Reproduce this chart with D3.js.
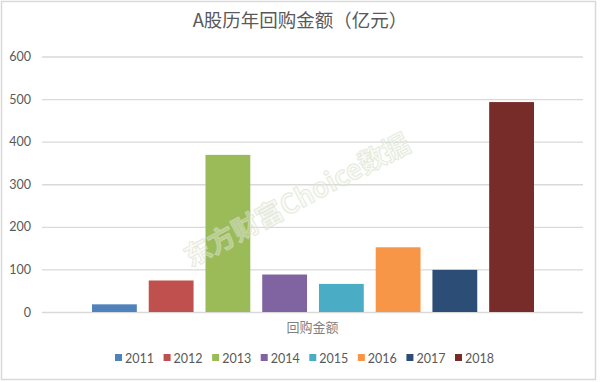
<!DOCTYPE html>
<html><head><meta charset="utf-8">
<script src="https://cdn.jsdelivr.net/npm/d3@7"></script>
<style>html,body{margin:0;padding:0;background:#fff;}svg{display:block;}</style>
</head><body>
<svg id="c" width="600" height="382"></svg>
<script>
const years = ["2011","2012","2013","2014","2015","2016","2017","2018"];
const values = [18, 74, 369, 88, 66, 152, 99, 493];
const colors = ["#4F81BD","#C0504D","#9BBB59","#8064A2","#4BACC6","#F79646","#2C4D75","#772C2A"];
const yTicks = [0,100,200,300,400,500,600];
const title = "A股历年回购金额（亿元）";
const categoryLabel = "回购金额";
const watermark = "东方财富Choice数据";

const svg = d3.select("#c");
const W = 600, H = 382;
svg.append("rect").attr("x",1.5).attr("y",1.5).attr("width",W-6).attr("height",H-4)
  .attr("fill","#fff").attr("stroke","#d9d9d9").attr("stroke-width",1.5);

const plotL = 42, plotR = 583;
const y = d3.scaleLinear().domain([0,600]).range([312,56.5]);
const x = d3.scaleBand().domain(years).range([92,534]).paddingInner(0.21).paddingOuter(0);

// gridlines
const yAxis = d3.axisLeft(y).tickValues(yTicks).tickSize(-(plotR-plotL)).tickPadding(11).tickFormat(d3.format("d"));
const gA = svg.append("g").attr("transform",`translate(${plotL},0)`).call(yAxis);
gA.select(".domain").remove();
gA.selectAll(".tick line").attr("stroke","#d9d9d9").attr("stroke-width",1.3);
gA.selectAll(".tick text").attr("fill","#595959").attr("font-family","Lato, 'Open Sans', sans-serif").attr("font-size",12.5);

// bars
svg.append("g").selectAll("rect").data(years).join("rect")
  .attr("x",d=>x(d)).attr("width",x.bandwidth())
  .attr("y",(d,i)=>y(values[i])).attr("height",(d,i)=>y(0)-y(values[i]))
  .attr("fill",(d,i)=>colors[i]);

// watermark (on top, faint)
svg.append("text").attr("transform","translate(298,202) rotate(-28)")
  .attr("text-anchor","middle").attr("dominant-baseline","middle")
  .attr("font-family","'Noto Sans CJK SC', sans-serif").attr("font-size",27).attr("font-weight",700)
  .attr("fill","#eef3e6").attr("fill-opacity",0.35).attr("stroke","#d5ddca").attr("stroke-opacity",0.6).attr("stroke-width",1)
  .text(watermark);

// title
svg.append("text").attr("x",300).attr("y",27).attr("text-anchor","middle")
  .attr("font-family","'Noto Sans CJK SC', sans-serif").attr("font-size",18.5).attr("fill","#595959")
  .text(title);

// category label
svg.append("text").attr("x",(plotL+plotR)/2).attr("y",332).attr("text-anchor","middle")
  .attr("font-family","'Noto Sans CJK SC', sans-serif").attr("font-size",13).attr("fill","#7f7f7f")
  .text(categoryLabel);

// legend
const lx = d3.scalePoint().domain(years).range([115,455]);
const lg = svg.append("g").selectAll("g").data(years).join("g")
  .attr("transform",d=>`translate(${lx(d)},358)`);
lg.append("rect").attr("x",0).attr("y",-4).attr("width",7).attr("height",7).attr("fill",(d,i)=>colors[i]);
lg.append("text").attr("x",10).attr("y",4.5).attr("font-family","Lato, 'Open Sans', sans-serif")
  .attr("font-size",12.5).attr("fill","#595959").text(d=>d);
</script>
</body></html>
